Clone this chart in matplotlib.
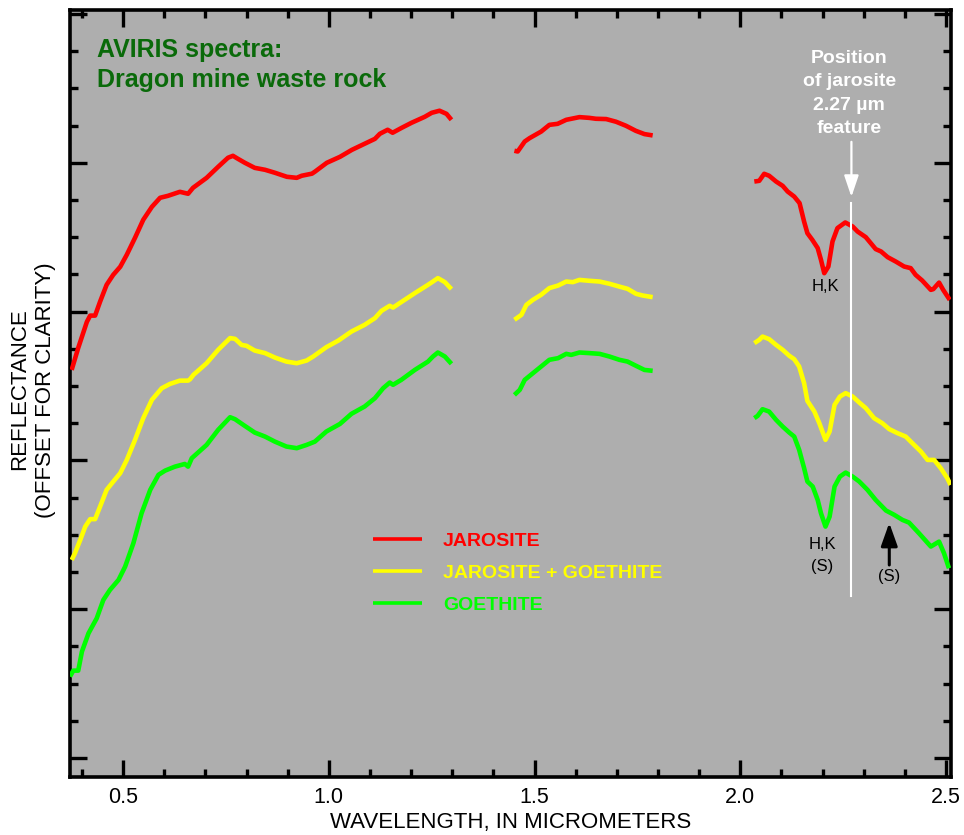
import numpy as np
import matplotlib
matplotlib.use("Agg")
import matplotlib.pyplot as plt
from matplotlib.ticker import MultipleLocator

plt.rcParams['font.family'] = ['Liberation Sans', 'DejaVu Sans']

nan = np.nan

# ---- data (wavelength in micrometers, reflectance offset units) ----
jar_wl = [0.375, 0.391, 0.412, 0.420, 0.432, 0.444, 0.460, 0.476, 0.493, 0.509, 0.529, 0.549,
          0.570, 0.590, 0.609, 0.638, 0.658, 0.670, 0.703, 0.731, 0.755, 0.767, 0.779, 0.796,
          0.820, 0.845, 0.869, 0.898, 0.922, 0.934, 0.959, 0.966, 0.995, 1.027, 1.056, 1.087,
          1.112, 1.124, 1.143, 1.155, 1.177, 1.201, 1.233, 1.250, 1.269, 1.286, 1.298, nan,
          1.451, 1.459, 1.476, 1.488, 1.516, 1.536, 1.556, 1.577, 1.609, 1.633, 1.649, 1.674,
          1.698, 1.722, 1.746, 1.767, 1.787, nan,
          2.034, 2.046, 2.058, 2.070, 2.087, 2.103, 2.115, 2.131, 2.144, 2.155, 2.163, 2.175,
          2.188, 2.196, 2.204, 2.214, 2.224, 2.236, 2.255, 2.273, 2.285, 2.305, 2.317, 2.329,
          2.342, 2.358, 2.378, 2.398, 2.414, 2.426, 2.442, 2.463, 2.469, 2.483, 2.493, 2.509]
jar_r = [2.608, 2.756, 2.931, 2.973, 2.973, 3.066, 3.180, 3.247, 3.301, 3.382, 3.496, 3.617,
         3.704, 3.765, 3.778, 3.805, 3.792, 3.832, 3.899, 3.973, 4.034, 4.047, 4.027, 4.000,
         3.966, 3.953, 3.933, 3.906, 3.899, 3.913, 3.927, 3.940, 4.000, 4.040, 4.087, 4.128,
         4.161, 4.195, 4.222, 4.202, 4.235, 4.269, 4.309, 4.336, 4.350, 4.329, 4.289, nan,
         4.081, 4.076, 4.143, 4.166, 4.210, 4.255, 4.262, 4.289, 4.307, 4.302, 4.296, 4.294,
         4.276, 4.249, 4.215, 4.193, 4.184, nan,
         3.874, 3.879, 3.926, 3.913, 3.874, 3.845, 3.807, 3.773, 3.729, 3.605, 3.527, 3.482,
         3.427, 3.348, 3.258, 3.303, 3.471, 3.561, 3.599, 3.572, 3.538, 3.500, 3.460, 3.420,
         3.404, 3.366, 3.336, 3.303, 3.292, 3.247, 3.209, 3.146, 3.151, 3.195, 3.146, 3.079]

mix_wl = [0.375, 0.383, 0.396, 0.408, 0.420, 0.432, 0.444, 0.460, 0.476, 0.493, 0.509, 0.529,
          0.549, 0.570, 0.594, 0.614, 0.638, 0.658, 0.663, 0.671, 0.703, 0.731, 0.760, 0.772,
          0.788, 0.800, 0.820, 0.845, 0.869, 0.897, 0.922, 0.946, 0.962, 0.994, 1.023, 1.055,
          1.087, 1.112, 1.128, 1.148, 1.156, 1.176, 1.209, 1.241, 1.253, 1.265, 1.282, 1.298, nan,
          1.451, 1.468, 1.480, 1.496, 1.516, 1.536, 1.557, 1.577, 1.593, 1.609, 1.633, 1.658,
          1.682, 1.706, 1.726, 1.747, 1.763, 1.787, nan,
          2.034, 2.046, 2.054, 2.070, 2.087, 2.103, 2.119, 2.131, 2.143, 2.155, 2.163, 2.180,
          2.192, 2.207, 2.217, 2.229, 2.242, 2.256, 2.273, 2.289, 2.305, 2.325, 2.345, 2.362,
          2.382, 2.402, 2.418, 2.439, 2.455, 2.471, 2.487, 2.503, 2.511]
mix_r = [1.331, 1.376, 1.466, 1.555, 1.605, 1.605, 1.689, 1.802, 1.857, 1.914, 2.003, 2.138,
         2.284, 2.407, 2.485, 2.514, 2.536, 2.536, 2.546, 2.575, 2.653, 2.743, 2.822, 2.817,
         2.776, 2.770, 2.738, 2.721, 2.691, 2.664, 2.653, 2.671, 2.698, 2.761, 2.805, 2.866,
         2.911, 2.956, 3.005, 3.039, 3.027, 3.064, 3.124, 3.180, 3.202, 3.225, 3.198, 3.151, nan,
         2.945, 2.978, 3.045, 3.079, 3.113, 3.158, 3.175, 3.202, 3.198, 3.213, 3.207, 3.202,
         3.187, 3.168, 3.153, 3.119, 3.108, 3.097, nan,
         2.788, 2.810, 2.832, 2.815, 2.776, 2.743, 2.703, 2.680, 2.631, 2.519, 2.400, 2.328,
         2.250, 2.138, 2.194, 2.373, 2.429, 2.452, 2.429, 2.389, 2.351, 2.284, 2.250, 2.210,
         2.183, 2.160, 2.116, 2.059, 2.003, 2.003, 1.948, 1.880, 1.835]

goe_wl = [0.371, 0.379, 0.391, 0.400, 0.416, 0.436, 0.452, 0.468, 0.489, 0.505, 0.525, 0.545,
          0.566, 0.586, 0.602, 0.626, 0.650, 0.658, 0.667, 0.703, 0.731, 0.760, 0.772, 0.792,
          0.820, 0.845, 0.869, 0.897, 0.922, 0.946, 0.966, 0.994, 1.027, 1.055, 1.087, 1.112,
          1.132, 1.148, 1.156, 1.176, 1.209, 1.241, 1.253, 1.265, 1.282, 1.298, nan,
          1.451, 1.464, 1.476, 1.496, 1.516, 1.536, 1.557, 1.577, 1.589, 1.609, 1.633, 1.658,
          1.682, 1.706, 1.726, 1.747, 1.767, 1.787, nan,
          2.034, 2.042, 2.054, 2.070, 2.087, 2.103, 2.119, 2.131, 2.143, 2.155, 2.163, 2.176,
          2.188, 2.196, 2.207, 2.217, 2.229, 2.242, 2.256, 2.273, 2.289, 2.309, 2.329, 2.354,
          2.374, 2.394, 2.410, 2.434, 2.463, 2.483, 2.495, 2.507]
goe_r = [0.547, 0.587, 0.587, 0.715, 0.838, 0.939, 1.062, 1.129, 1.197, 1.286, 1.443, 1.645,
         1.802, 1.903, 1.931, 1.958, 1.976, 1.958, 2.015, 2.104, 2.205, 2.290, 2.277, 2.239,
         2.187, 2.160, 2.126, 2.093, 2.082, 2.104, 2.126, 2.194, 2.245, 2.313, 2.362, 2.418,
         2.485, 2.523, 2.508, 2.541, 2.608, 2.664, 2.698, 2.725, 2.698, 2.649, nan,
         2.440, 2.474, 2.541, 2.586, 2.631, 2.676, 2.687, 2.716, 2.709, 2.725, 2.721, 2.716,
         2.698, 2.676, 2.664, 2.635, 2.608, 2.602, nan,
         2.284, 2.299, 2.344, 2.328, 2.272, 2.227, 2.187, 2.160, 2.071, 1.948, 1.858, 1.824,
         1.734, 1.645, 1.555, 1.622, 1.824, 1.891, 1.918, 1.891, 1.858, 1.802, 1.734, 1.663,
         1.634, 1.600, 1.582, 1.511, 1.421, 1.454, 1.376, 1.275]

series_labels = ['JAROSITE', 'JAROSITE + GOETHITE', 'GOETHITE']
series_colors = ['#ff0000', '#ffff00', '#00ff00']
feature_wl = 2.27

# ---- figure ----
fig = plt.figure(figsize=(9.64, 8.35), dpi=100)
ax = fig.add_axes([70/964, 1 - 777/835, 881/964, 767/835])
ax.set_facecolor('#aeaeae')

for wl, r, lab, col in zip([jar_wl, mix_wl, goe_wl], [jar_r, mix_r, goe_r],
                           series_labels, series_colors):
    ax.plot(wl, r, color=col, lw=3.3, label=lab, solid_joinstyle='round',
            solid_capstyle='butt', zorder=3)

ax.set_xlim(0.371, 2.512)
ax.set_ylim(-0.128, 5.027)

ax.xaxis.set_major_locator(MultipleLocator(0.5))
ax.xaxis.set_minor_locator(MultipleLocator(0.1))
ax.yaxis.set_major_locator(MultipleLocator(1.0))
ax.yaxis.set_minor_locator(MultipleLocator(0.25))
ax.xaxis.set_major_formatter(plt.FuncFormatter(lambda v, p: f"{v:.1f}"))
ax.tick_params(which='both', direction='in', top=True, right=True, width=2.4, color='black')
ax.tick_params(which='major', length=12, pad=7, labelsize=15.5)
ax.tick_params(which='minor', length=6)
ax.tick_params(axis='y', labelleft=False)
for s in ax.spines.values():
    s.set_linewidth(2.6)

ax.set_xlabel('WAVELENGTH, IN MICROMETERS', fontsize=16, labelpad=3)
fig.text(20/964, 1 - 389/835, 'REFLECTANCE', rotation=90, fontsize=16,
         ha='center', va='center')
fig.text(46/964, 1 - 390/835, '(OFFSET FOR CLARITY)', rotation=90, fontsize=16,
         ha='center', va='center')

# title
ax.text(0.437, 4.84, 'AVIRIS spectra:\nDragon mine waste rock', color='#0a6a0a',
        fontsize=18, fontweight='bold', ha='left', va='top', linespacing=1.3)

# feature marker
ax.plot([feature_wl, feature_wl], [3.731, 1.089], color='white', lw=1.5, zorder=4)
ax.annotate('', xy=(feature_wl, 3.771), xytext=(feature_wl, 4.141),
            arrowprops=dict(arrowstyle='-|>,head_length=0.65,head_width=0.22',
                            color='white', lw=1.6, mutation_scale=20,
                            shrinkA=0, shrinkB=0), zorder=5)
ax.text(2.265, 4.76, 'Position\nof jarosite\n2.27 µm\nfeature', color='white',
        fontsize=14, fontweight='bold', ha='center', va='top', linespacing=1.5,
        multialignment='center')

ax.text(2.206, 3.166, 'H,K', fontsize=12, ha='center', va='center', color='black')
ax.text(2.199, 1.36, 'H,K\n(S)', fontsize=12, ha='center', va='center', color='black',
        linespacing=1.6, multialignment='center')
ax.text(2.362, 1.217, '(S)', fontsize=12, ha='center', va='center', color='black')
ax.annotate('', xy=(2.362, 1.580), xytext=(2.362, 1.297),
            arrowprops=dict(arrowstyle='-|>,head_length=0.7,head_width=0.25',
                            color='black', lw=2.2, mutation_scale=20,
                            shrinkA=0, shrinkB=0), zorder=5)

leg = ax.legend(loc='center left', bbox_to_anchor=((373 - 70) / 881, (777 - 573) / 767),
                frameon=False, borderpad=0, borderaxespad=0, handlelength=2.52,
                handletextpad=1.08, labelspacing=0.75, labelcolor='linecolor',
                prop={'weight': 'bold', 'size': 14})
for h in leg.get_lines():
    h.set_linewidth(2.6)

fig.savefig('out.png', dpi=100, facecolor='white')
